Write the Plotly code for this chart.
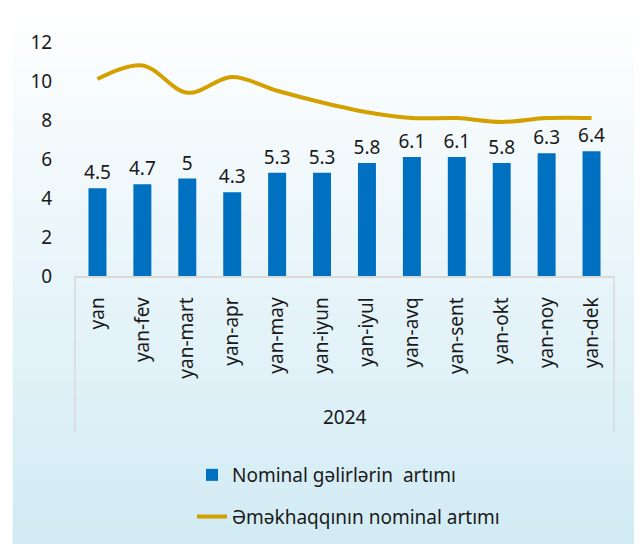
import plotly.graph_objects as go

categories = ["yan", "yan-fev", "yan-mart", "yan-apr", "yan-may", "yan-iyun",
              "yan-iyul", "yan-avq", "yan-sent", "yan-okt", "yan-noy", "yan-dek"]
income_growth = [4.5, 4.7, 5, 4.3, 5.3, 5.3, 5.8, 6.1, 6.1, 5.8, 6.3, 6.4]
wage_growth = [10.1, 10.8, 9.4, 10.2, 9.5, 8.9, 8.4, 8.1, 8.1, 7.9, 8.1, 8.1]
group_label = "2024"
y_ticks = [0, 2, 4, 6, 8, 10, 12]
series_names = ["Nominal gəlirlərin\u00a0 artımı", "Əməkhaqqının nominal artımı"]

# page has an 8px body margin: figure is drawn from (8, 8)
OFF = 8
PAGE_W, PAGE_H = 642, 544
W, H = PAGE_W - OFF, PAGE_H - OFF
ML, MR, MT, MB = 74.5 - OFF, 27.5, 42 - OFF, 268
PW, PH = W - ML - MR, H - MT - MB
FONT = "Noto Sans"
TXT = "#1a1a1a"


def px_x(page_px):
    return (page_px - OFF - ML) / PW


def px_y(page_py):
    return (PAGE_H - MB - page_py) / PH


fig = go.Figure()
fig.add_trace(go.Bar(
    x=categories, y=income_growth, name=series_names[0],
    marker=dict(color="#0070c0", line=dict(width=0)), width=0.4,
    text=[f"{v:g}" for v in income_growth], textposition="outside",
    constraintext="none",
    textfont=dict(family=FONT, size=19, color=TXT), cliponaxis=False,
    legendgroup="a",
))
fig.add_trace(go.Scatter(
    x=categories, y=wage_growth, name=series_names[1], mode="lines",
    line=dict(color="#d4a000", width=4, shape="spline", smoothing=1),
    legendgroup="b",
))

shapes = []
# background gradient (white at top -> light blue at bottom)
top = (255, 255, 255)
bot = (210, 235, 244)
step = 4
for py in range(OFF, PAGE_H, step):
    f = (py + step / 2) / PAGE_H
    c = tuple(round(top[i] + (bot[i] - top[i]) * f) for i in range(3))
    shapes.append(dict(type="rect", xref="paper", yref="paper",
                       x0=px_x(12), x1=px_x(PAGE_W + 2), y0=px_y(py + step + 0.5), y1=px_y(py),
                       fillcolor=f"rgb{c}", line=dict(width=0), layer="below"))
# multi-level axis box side lines
for xv in (0, 1):
    shapes.append(dict(type="line", xref="paper", yref="paper", x0=xv, x1=xv,
                       y0=px_y(PAGE_H - MB), y1=px_y(432),
                       line=dict(color="#d9d9d9", width=1.5)))

fig.update_layout(
    width=W, height=H,
    margin=dict(l=ML, r=MR, t=MT, b=MB, pad=0, autoexpand=False),
    paper_bgcolor="white", plot_bgcolor="rgba(0,0,0,0)",
    font=dict(family=FONT, size=19, color=TXT),
    shapes=shapes,
    showlegend=True,
    legend=dict(xref="container", yref="container",
                x=(192 - OFF) / W, y=1 - (456 - OFF) / H,
                xanchor="left", yanchor="top",
                bgcolor="rgba(0,0,0,0)", font=dict(family=FONT, size=19, color=TXT),
                traceorder="grouped", tracegroupgap=14),
    annotations=[dict(text=group_label, xref="paper", yref="paper", x=0.5, y=px_y(416.5),
                      xanchor="center", yanchor="middle", showarrow=False,
                      font=dict(family=FONT, size=19, color=TXT))],
)
fig.update_xaxes(type="category", tickangle=-90, showline=True, linecolor="#d9d9d9",
                 linewidth=1.5, showgrid=False, ticks="outside", ticklen=12,
                 tickcolor="rgba(0,0,0,0)", tickfont=dict(family=FONT, size=19, color=TXT),
                 automargin=False, fixedrange=True)
fig.update_yaxes(range=[0, 12], tickvals=y_ticks, showgrid=False, zeroline=False,
                 showline=False, ticks="outside", ticklen=18, tickcolor="rgba(0,0,0,0)",
                 tickfont=dict(family=FONT, size=19, color=TXT),
                 automargin=False, fixedrange=True)

fig.write_html("out.html")
